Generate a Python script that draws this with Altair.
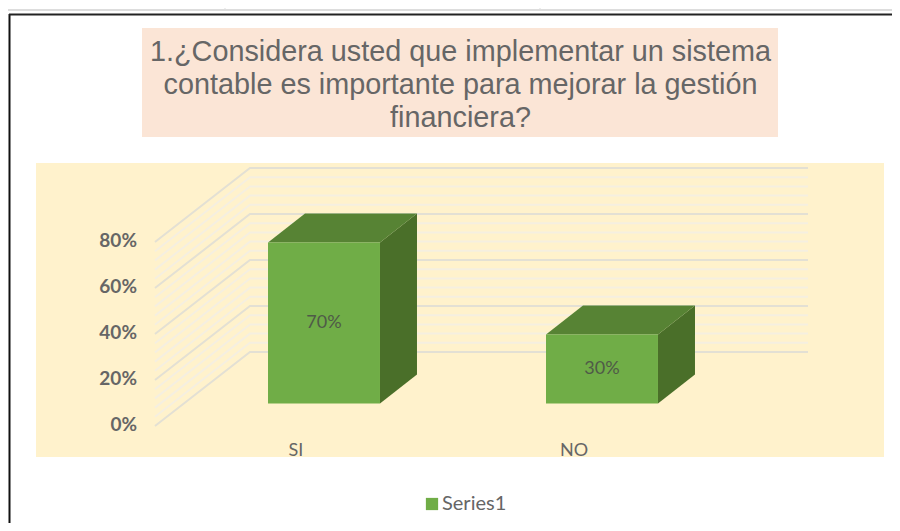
import altair as alt
import pandas as pd

categories = ["SI", "NO"]
values = [70, 30]
value_labels = ["70%", "30%"]
positions = [0, 1]
axis_ticks = [0, 20, 40, 60, 80]
grid_major = [0, 20, 40, 60, 80]
grid_minor = [4, 8, 12, 16, 24, 28, 32, 36, 44, 48, 52, 56, 64, 68, 72, 76]
title_lines = [
    "1.¿Considera usted que implementar un sistema",
    "contable es importante para mejorar la gestión",
    "financiera?",
]
series_name = "Series1"

# 3-D projection parameters (in scale units)
BAR_HALF = 0.2014
DEPTH_X = 0.1331
DEPTH_Y = 12.61
BASE = 9.8
WALL_DX = 0.3417
WALL_DY = 32.17
GRID_LEFT = -0.608
GRID_RIGHT = 1.741

W, H = 884, 515
xs = alt.Scale(domain=[-1.1367, 2.0432], range=[0, W], nice=False, zero=False)
ys = alt.Scale(domain=[-42.17, 181.74], range=[H, 0], nice=False, zero=False)
X = lambda f: alt.X(f, type="quantitative", scale=xs, axis=None)
Y = lambda f: alt.Y(f, type="quantitative", scale=ys, axis=None)
one = pd.DataFrame({"a": [0]})


def box(x0, x1, y0, y1, color):
    return alt.Chart(one).mark_rect(fill=color).encode(
        x=alt.value(x0 - 8), x2=alt.value(x1 - 8), y=alt.value(y0 - 8), y2=alt.value(y1 - 8))


def rule(x0, x1, y0, y1, color, w):
    return alt.Chart(one).mark_rule(color=color, strokeWidth=w).encode(
        x=alt.value(x0 - 8), x2=alt.value(x1 - 8), y=alt.value(y0 - 8), y2=alt.value(y1 - 8))


def grid_rows(levels):
    rows = []
    for v in levels:
        rows += [
            {"lev": v, "x": GRID_LEFT, "y": v},
            {"lev": v, "x": GRID_LEFT + WALL_DX, "y": v + WALL_DY},
            {"lev": v, "x": GRID_RIGHT, "y": v + WALL_DY},
        ]
    return pd.DataFrame(rows)


minor = alt.Chart(grid_rows(grid_minor)).mark_line(color="#F5EFE0", strokeWidth=2).encode(
    x=X("x"), y=Y("y"), detail="lev:N")
major = alt.Chart(grid_rows(grid_major)).mark_line(color="#E3E0D4", strokeWidth=2).encode(
    x=X("x"), y=Y("y"), detail="lev:N")

front = pd.DataFrame({
    "cat": categories, "c": positions, "v": values, "label": value_labels,
    "x0": [p - BAR_HALF for p in positions], "x1": [p + BAR_HALF for p in positions],
    "y0": [BASE] * 2, "y1": [BASE + v for v in values], "mid": [BASE + v / 2 for v in values],
    "series": [series_name] * 2,
})

side_rows, top_rows = [], []
for p, v in zip(positions, values):
    l, r = p - BAR_HALF, p + BAR_HALF
    t = BASE + v
    side_rows += [
        {"cat": p, "x": r, "y": t, "y2": BASE},
        {"cat": p, "x": r + DEPTH_X, "y": t + DEPTH_Y, "y2": BASE + DEPTH_Y},
    ]
    top_rows += [
        {"cat": p, "x": l, "y": t, "y2": t},
        {"cat": p, "x": l + DEPTH_X, "y": t + DEPTH_Y, "y2": t},
        {"cat": p, "x": r, "y": t + DEPTH_Y, "y2": t},
        {"cat": p, "x": r + DEPTH_X, "y": t + DEPTH_Y, "y2": t + DEPTH_Y},
    ]

side = alt.Chart(pd.DataFrame(side_rows)).mark_area(color="#4A6F29", interpolate="linear").encode(
    x=X("x"), y=Y("y"), y2="y2:Q", detail="cat:N")
top = alt.Chart(pd.DataFrame(top_rows)).mark_area(color="#578334", interpolate="linear").encode(
    x=X("x"), y=Y("y"), y2="y2:Q", detail="cat:N")
bars = alt.Chart(front).mark_rect().encode(
    x=X("x0"), x2="x1:Q", y=Y("y0"), y2="y1:Q",
    color=alt.Color("series:N", scale=alt.Scale(domain=[series_name], range=["#70AD47"]),
                    legend=alt.Legend(orient="none", legendX=414, legendY=486, title=None,
                                      symbolType="square", symbolSize=150, symbolStrokeWidth=0,
                                      labelFont="Lato", labelFontSize=20, labelColor="#666666",
                                      labelOffset=0)))
vlabels = alt.Chart(front).mark_text(font="Lato", fontSize=18, color="#4F5A48").encode(
    x=X("c"), y=Y("mid"), text="label:N")
catlabels = alt.Chart(front).mark_text(font="Lato", fontSize=18, color="#666666", dx=-28).encode(
    x=X("c"), y=alt.value(451 - 8), text="cat:N")

tick_df = pd.DataFrame({"t": axis_ticks, "x": [GRID_LEFT] * len(axis_ticks),
                        "label": [f"{t}%" for t in axis_ticks]})
ticklabels = alt.Chart(tick_df).mark_text(
    font="Lato", fontWeight="bold", fontSize=19, color="#666666", align="right", dx=-18, dy=-1
).encode(x=X("x"), y=Y("t"), text="label:N")

title_y = [52, 85, 118]
title_layers = [
    alt.Chart(pd.DataFrame({"line": [line]})).mark_text(
        font="Liberation Sans", fontSize=28.8, color="#666666", align="center", baseline="middle"
    ).encode(x=alt.value(460.5 - 8), y=alt.value(py - 8), text="line:N")
    for line, py in zip(title_lines, title_y)
]

chart = alt.layer(
    rule(5, 900, 10, 10, "#DDDDDD", 2),
    rule(225, 225, 8, 10, "#DDDDDD", 1),
    rule(540, 540, 8, 10, "#DDDDDD", 1),
    rule(9.5, 9.5, 14, 531, "#111111", 2),
    rule(9, 900, 14.5, 14.5, "#222222", 2),
    box(142, 778, 28, 137, "#FBE5D6"),
    box(36, 884, 163, 457, "#FFF2CC"),
    minor, major, side, top, bars, vlabels, catlabels, ticklabels, *title_layers,
).properties(
    width=W, height=H, padding=0, autosize=alt.AutoSizeParams(type="none"), background="white"
).configure_view(stroke=None)

chart.save("out.html", embed_options={"renderer": "svg", "actions": False})
